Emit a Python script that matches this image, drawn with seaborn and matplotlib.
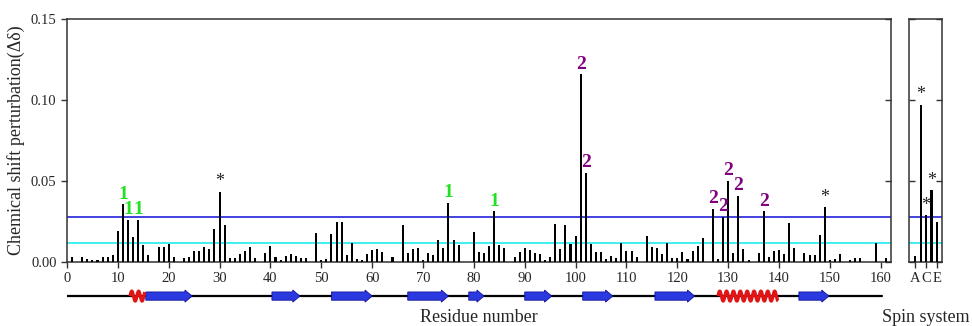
import numpy as np
import seaborn as sns
import matplotlib as mpl
mpl.use("Agg")
import matplotlib.pyplot as plt
from matplotlib.patches import FancyArrow

# per-residue chemical shift perturbation (residues missing from the list had no bar)
residues = [1, 3, 4, 5, 6, 7, 8, 9, 10, 11, 12, 13, 14, 15, 16, 18, 19, 20, 21, 23,
            24, 25, 26, 27, 28, 29, 30, 31, 32, 33, 34, 35, 36, 37, 39, 40, 41, 42, 43, 44,
            45, 46, 47, 49, 50, 51, 52, 53, 54, 55, 56, 57, 58, 59, 60, 61, 62, 64, 66, 67,
            68, 69, 70, 71, 72, 73, 74, 75, 76, 77, 80, 81, 82, 83, 84, 85, 86, 88, 89, 90,
            91, 92, 93, 94, 95, 96, 97, 98, 99, 100, 101, 102, 103, 104, 105, 106, 107, 108, 109, 110,
            111, 112, 114, 115, 116, 117, 118, 119, 120, 121, 122, 123, 124, 125, 127, 128, 129, 130, 131, 132,
            133, 134, 136, 137, 138, 139, 140, 141, 142, 143, 145, 146, 147, 148, 149, 150, 151, 152, 154, 155,
            156, 159, 161]
delta = [0.003, 0.003, 0.002, 0.0015, 0.0015, 0.003, 0.003, 0.0045, 0.019, 0.0355, 0.026, 0.0155, 0.026, 0.0105, 0.0045, 0.009, 0.0095, 0.011, 0.003, 0.0025,
         0.003, 0.007, 0.007, 0.009, 0.008, 0.0205, 0.0435, 0.023, 0.0025, 0.0025, 0.005, 0.007, 0.009, 0.0025, 0.0055, 0.010, 0.003, 0.0015, 0.004, 0.005,
         0.004, 0.0027, 0.0027, 0.018, 0.0015, 0.002, 0.0175, 0.0245, 0.0245, 0.0045, 0.0115, 0.002, 0.0015, 0.0047, 0.0076, 0.008, 0.006, 0.003, 0.023, 0.0055,
         0.008, 0.0086, 0.0015, 0.0057, 0.0043, 0.0133, 0.0084, 0.0367, 0.0133, 0.0107, 0.0184, 0.006, 0.0057, 0.0098, 0.0314, 0.0107, 0.0086, 0.003, 0.006, 0.0088,
         0.0076, 0.0057, 0.005, 0.0015, 0.003, 0.0236, 0.008, 0.023, 0.0113, 0.0158, 0.116, 0.055, 0.011, 0.006, 0.006, 0.002, 0.004, 0.0027, 0.0115, 0.0068,
         0.0068, 0.003, 0.0158, 0.009, 0.0088, 0.005, 0.0115, 0.0025, 0.0025, 0.006, 0.002, 0.007, 0.0098, 0.015, 0.0328, 0.002, 0.028, 0.050, 0.0057, 0.041,
         0.008, 0.0015, 0.0055, 0.0314, 0.003, 0.007, 0.0076, 0.005, 0.024, 0.0088, 0.0055, 0.0045, 0.0045, 0.0168, 0.034, 0.0015, 0.002, 0.0047, 0.0015, 0.0027,
         0.0027, 0.0115, 0.0025]

# spin systems on the right panel
spin = ["A", "B", "C", "D", "E"]
spin_delta = [0.004, 0.0972, 0.029, 0.0445, 0.025]
spin_ticks = ["A", "C", "E"]

# marks over the bars
marks_1 = [11, 12, 14, 75, 84]
marks_2 = [101, 102, 127, 129, 130, 132, 137]
marks_star = [30, 149]
spin_star = ["B", "C", "D"]

# thresholds
thr_high = 0.0275
thr_low = 0.012

# secondary structure
strands = [(15.5, 24.6), (40.3, 45.8), (52, 60), (67, 75), (79, 82), (90, 95.3),
           (101.4, 107.3), (115.6, 123.4), (143.9, 149.8)]
helices = [(12.4, 15.3), (128, 139.8)]
chain = (0.1, 160.2)

sns.set_style("ticks")
plt.rcParams["font.family"] = ["Liberation Serif", "DejaVu Serif"]
plt.rcParams["axes.linewidth"] = 1.1
plt.rcParams["axes.edgecolor"] = "#333333"

blue = "#3434dc"
cyan = "#30eeee"
green = "#22e022"
purple = "#800080"

fig = plt.figure(figsize=(9.72, 3.26), dpi=100)
ax = fig.add_axes([0.0689, 0.1963, 0.8477, 0.7454])
ax2 = fig.add_axes([0.9352, 0.1963, 0.0340, 0.7454])
axs = fig.add_axes([0.0689, 0.058, 0.8477, 0.0675])

# main panel
sns.barplot(x=residues, y=delta, native_scale=True, color="black", width=0.4,
            errorbar=None, linewidth=0, ax=ax, zorder=3)
for a in (ax, ax2):
    a.axhline(thr_high, color=blue, lw=1.3, zorder=1)
    a.axhline(thr_low, color=cyan, lw=1.3, zorder=1)
    a.set_ylim(0, 0.15)
    a.set_yticks([0, 0.05, 0.10, 0.15])

ax.set_xlim(0, 162)
ax.set_xticks(range(0, 161, 10))
ax.yaxis.set_major_formatter(mpl.ticker.FormatStrFormatter("%.2f"))
ax.tick_params(axis="both", labelsize=10.5, length=4, width=1, color="#333333")
ax.tick_params(axis="y", right=True, which="both")
ax.yaxis.set_tick_params(which="major", direction="out")
ax.set_ylabel("Chemical shift perturbation(\u0394\u03b4)", fontsize=13, labelpad=4)
ax.set_xlabel("Residue number", fontsize=13, labelpad=17)

# right ticks pointing inward
for t in ax.yaxis.get_major_ticks():
    t.tick2line.set_marker(mpl.lines.TICKLEFT)

lookup = dict(zip(residues, delta))
for r in marks_1:
    ax.annotate("1", (r, lookup[r]), xytext=(0, 4), textcoords="offset points",
                ha="center", va="baseline", color=green, fontsize=14, fontweight="bold")
for r in marks_2:
    ax.annotate("2", (r, lookup[r]), xytext=(0, 4), textcoords="offset points",
                ha="center", va="baseline", color=purple, fontsize=14, fontweight="bold")
for r in marks_star:
    ax.annotate("*", (r, lookup[r]), xytext=(0, 1), textcoords="offset points",
                ha="center", va="bottom", color="#222222", fontsize=13)

# spin system panel
sns.barplot(x=spin, y=spin_delta, color="black", width=0.4, errorbar=None,
            linewidth=0, ax=ax2, zorder=3)
ax2.set_xlim(-1.18, 4.98)
ax2.set_xticks([spin.index(s) for s in spin_ticks])
ax2.set_xticklabels(spin_ticks)
ax2.tick_params(axis="x", labelsize=10.5, length=4, width=1, color="#333333", pad=3.5)
ax2.tick_params(axis="y", left=True, right=True, labelleft=False, direction="in",
                length=4, width=1, color="#333333")
ax2.set_ylabel("")
ax2.set_xlabel("Spin system", fontsize=13, labelpad=17)
for s in spin_star:
    i = spin.index(s)
    ax2.annotate("*", (i, spin_delta[i]), xytext=(0, 1), textcoords="offset points",
                 ha="center", va="bottom", color="#222222", fontsize=13)

# secondary structure track
axs.set_xlim(0, 162)
axs.set_ylim(-1, 1)
axs.axis("off")
axs.plot(chain, [0, 0], color="black", lw=1.6, zorder=1)
for a, b in strands:
    axs.add_patch(FancyArrow(a, 0, b - a, 0, width=0.75, head_width=1.1, head_length=1.4,
                             length_includes_head=True, fc="#2a3ae0", ec="#12129a",
                             lw=0.6, zorder=2))
for a, b in helices:
    xs = np.linspace(a, b, 200)
    axs.plot(xs, 0.45 * np.sin(2 * np.pi * (xs - a) / 1.35), color="#e01515",
             lw=2.4, zorder=3, solid_capstyle="butt")

fig.savefig("out.png", dpi=100)
